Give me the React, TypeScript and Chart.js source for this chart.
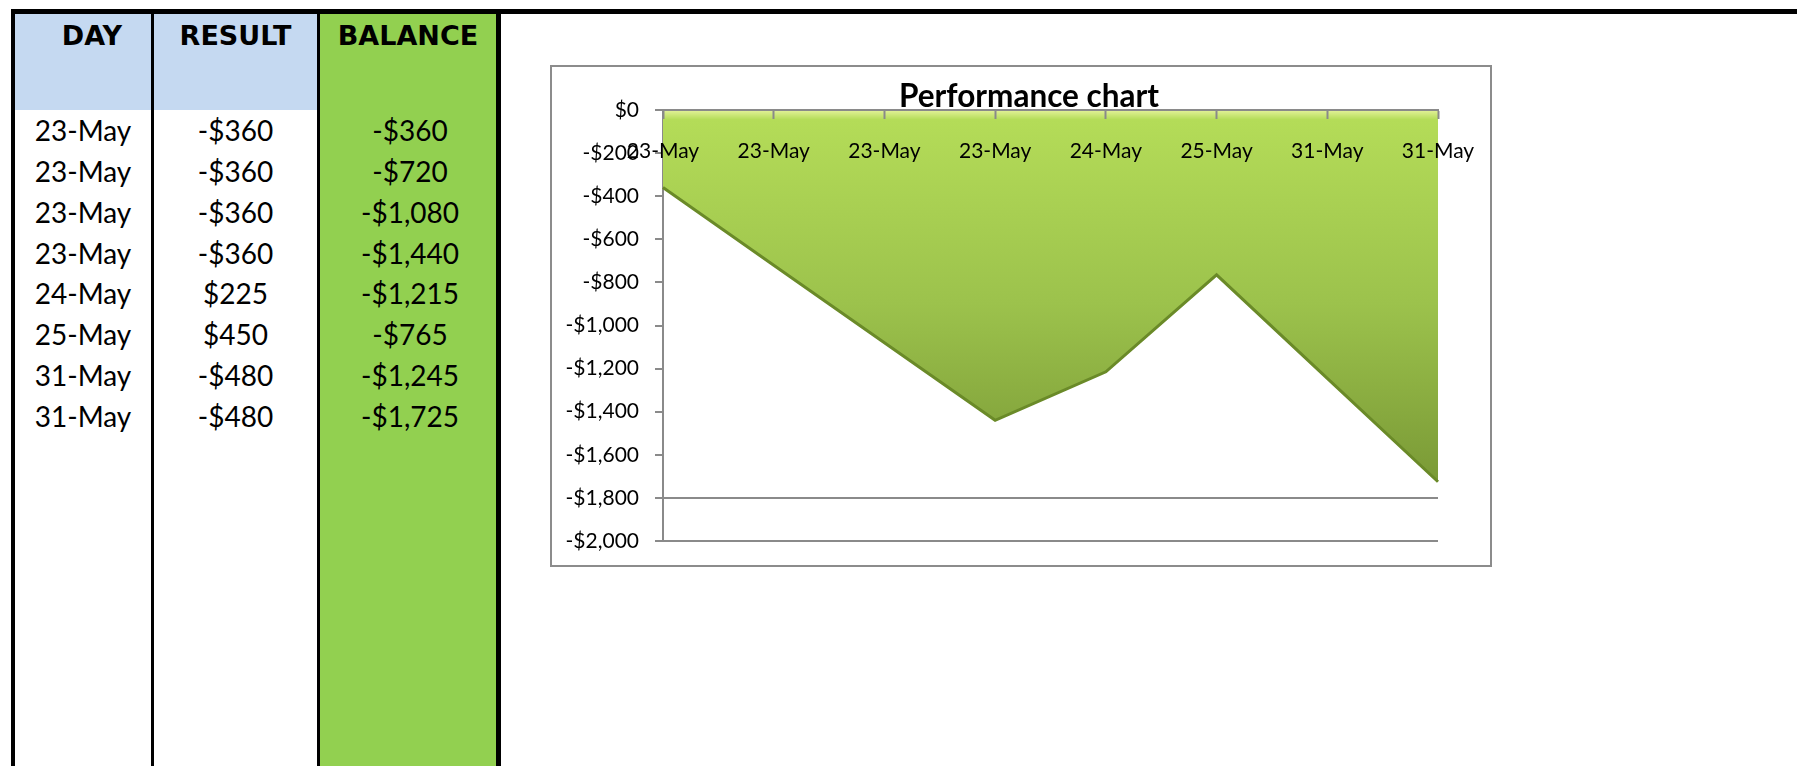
import React, { useEffect, useRef } from "react";
import { Chart, registerables } from "chart.js";

Chart.register(...registerables);

// ---- data ----
const headers = ["DAY", "RESULT", "BALANCE"];
const days = ["23-May", "23-May", "23-May", "23-May", "24-May", "25-May", "31-May", "31-May"];
const results = [-360, -360, -360, -360, 225, 450, -480, -480];
const balance = [-360, -720, -1080, -1440, -1215, -765, -1245, -1725];
const yMin = -2000;
const yMax = 0;
const yStep = 200;
const chartTitle = "Performance chart";

function money(v: number): string {
  const abs = Math.round(Math.abs(v)).toString().replace(/\B(?=(\d{3})+(?!\d))/g, ",");
  return (v < 0 ? "-$" : "$") + abs;
}

const LABEL_FONT = "Lato";
const AXIS_GREY = "#8a8a8a";

function zeroPad(s: any) {
  s.paddingLeft = 0;
  s.paddingRight = 0;
  s.paddingTop = 0;
  s.paddingBottom = 0;
}

// shifts the title block so it is centred like in the spreadsheet chart
const titleShift = {
  id: "titleShift",
  afterLayout(chart: any) {
    const tb = chart.titleBlock;
    if (tb) {
      tb.left += 68;
    }
  },
};

function PerfChart() {
  const ref = useRef<HTMLCanvasElement | null>(null);
  useEffect(() => {
    if (!ref.current) return;
    const chart = new Chart(ref.current, {
      type: "line",
      data: {
        labels: days,
        datasets: [
          {
            data: balance,
            fill: "origin",
            tension: 0,
            pointRadius: 0,
            borderColor: "#6a8a28",
            borderWidth: 3,
            backgroundColor: (ctx: any) => {
              const ch = ctx.chart;
              const area = ch.chartArea;
              if (!area) return "#a0c848";
              const yb = ch.scales.y.getPixelForValue(-1800);
              const g = ch.ctx.createLinearGradient(0, area.top, 0, yb);
              g.addColorStop(0, "#e4f29a");
              g.addColorStop(0.025, "#b4dc58");
              g.addColorStop(0.5, "#9cc24c");
              g.addColorStop(1, "#779634");
              return g;
            },
          },
        ],
      },
      plugins: [titleShift],
      options: {
        animation: false,
        responsive: true,
        maintainAspectRatio: false,
        layout: { padding: { left: 0, right: 50, top: 0, bottom: 22 }, autoPadding: false },
        plugins: {
          legend: { display: false },
          tooltip: { enabled: false },
          title: {
            display: true,
            text: chartTitle,
            color: "#000",
            font: { family: LABEL_FONT, size: 31.5, weight: "bold", lineHeight: 27 / 31.5 },
            padding: { top: 16, bottom: 0 },
          },
        },
        scales: {
          x: {
            position: { y: 0 } as any,
            offset: false,
            grid: {
              display: true,
              drawOnChartArea: false,
              tickLength: 8,
              tickColor: AXIS_GREY,
              tickWidth: 2,
              z: 1,
            },
            border: { display: true, color: AXIS_GREY, width: 2, z: 1 },
            ticks: {
              color: "#000",
              font: { family: LABEL_FONT, size: 21 },
              padding: 21,
              maxRotation: 0,
              autoSkip: false,
              z: 1,
            },
            afterFit: zeroPad,
          },
          y: {
            min: yMin,
            max: yMax,
            ticks: {
              stepSize: yStep,
              color: "#000",
              font: { family: LABEL_FONT, size: 21 },
              padding: 16,
              callback: (v: any) => money(Number(v)),
            },
            grid: {
              color: (ctx: any) => {
                const v = ctx.tick ? ctx.tick.value : null;
                return v === -1800 || v === -2000 ? AXIS_GREY : "rgba(0,0,0,0)";
              },
              tickColor: AXIS_GREY,
              tickLength: 8,
              lineWidth: 2,
            },
            border: { display: true, color: AXIS_GREY, width: 2 },
            afterFit: (s: any) => {
              s.width = 111;
              zeroPad(s);
            },
          },
        },
      } as any,
    });
    return () => chart.destroy();
  }, []);
  return <canvas ref={ref} />;
}

const ROW_TOP = 110;
const ROW_H = 40.86;

export default function App() {
  const cols = [
    { left: 15, width: 136 },
    { left: 154, width: 163 },
    { left: 320, width: 176 },
  ];
  const headerStyle: React.CSSProperties = {
    position: "absolute",
    top: 14,
    height: 44,
    lineHeight: "44px",
    fontFamily: "'DejaVu Sans', sans-serif",
    fontWeight: "bold",
    fontSize: 27,
    color: "#000",
    textAlign: "center",
    whiteSpace: "nowrap",
  };
  const cellStyle: React.CSSProperties = {
    position: "absolute",
    height: ROW_H,
    lineHeight: ROW_H + "px",
    fontFamily: "Lato, sans-serif",
    fontSize: 28,
    color: "#000",
    textAlign: "center",
    whiteSpace: "nowrap",
  };
  return (
    <div
      style={{
        position: "fixed",
        left: 0,
        top: 0,
        width: 1797,
        height: 766,
        background: "#fff",
        overflow: "hidden",
      }}
    >
      {/* header backgrounds */}
      <div style={{ position: "absolute", left: 15, top: 14, width: 136, height: 96, background: "#c5d9f1" }} />
      <div style={{ position: "absolute", left: 154, top: 14, width: 163, height: 96, background: "#c5d9f1" }} />
      <div style={{ position: "absolute", left: 320, top: 14, width: 176, height: 752, background: "#92d050" }} />
      {/* borders */}
      <div style={{ position: "absolute", left: 11, top: 9, width: 1786, height: 5, background: "#000" }} />
      <div style={{ position: "absolute", left: 11, top: 9, width: 4, height: 757, background: "#000" }} />
      <div style={{ position: "absolute", left: 151, top: 14, width: 3, height: 752, background: "#000" }} />
      <div style={{ position: "absolute", left: 317, top: 14, width: 3, height: 752, background: "#000" }} />
      <div style={{ position: "absolute", left: 496, top: 14, width: 5, height: 752, background: "#000" }} />
      {/* headers */}
      <div style={{ ...headerStyle, left: 30, width: 124 }}>{headers[0]}</div>
      <div style={{ ...headerStyle, left: cols[1].left, width: cols[1].width }}>{headers[1]}</div>
      <div style={{ ...headerStyle, left: cols[2].left, width: cols[2].width }}>{headers[2]}</div>
      {/* rows */}
      {days.map((d, i) => (
        <React.Fragment key={i}>
          <div style={{ ...cellStyle, top: ROW_TOP + i * ROW_H, left: cols[0].left, width: cols[0].width }}>{d}</div>
          <div style={{ ...cellStyle, top: ROW_TOP + i * ROW_H, left: cols[1].left, width: cols[1].width }}>
            {money(results[i])}
          </div>
          <div style={{ ...cellStyle, top: ROW_TOP + i * ROW_H, left: cols[2].left + 2, width: cols[2].width }}>
            {money(balance[i])}
          </div>
        </React.Fragment>
      ))}
      {/* chart frame */}
      <div
        style={{
          position: "absolute",
          left: 550,
          top: 65,
          width: 938,
          height: 498,
          border: "2px solid #8c8c8c",
          background: "#fff",
        }}
      >
        <div style={{ position: "relative", width: 936, height: 496 }}>
          <PerfChart />
        </div>
      </div>
    </div>
  );
}
